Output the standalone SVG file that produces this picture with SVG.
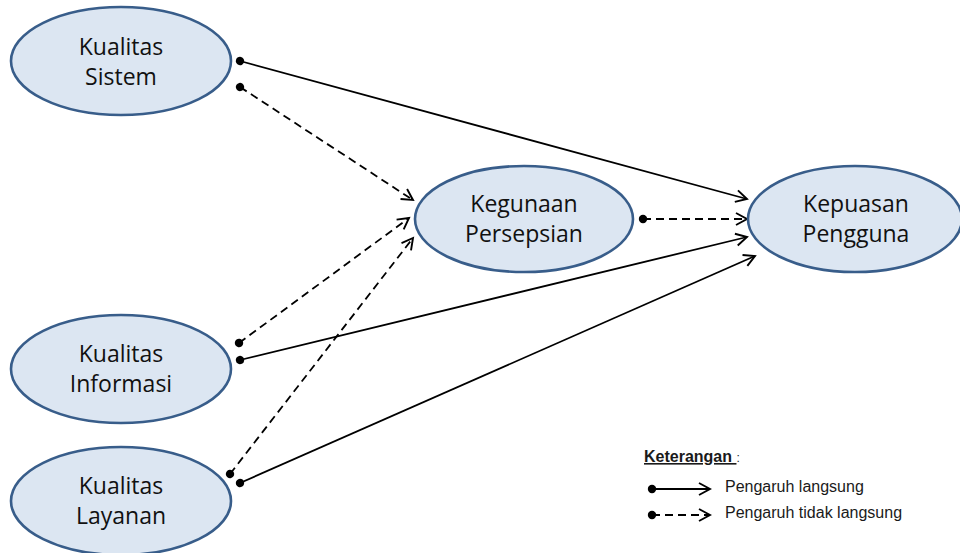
<svg xmlns="http://www.w3.org/2000/svg" width="960" height="553" viewBox="0 0 960 553">
<defs>
<style>
.node ellipse{fill:#dce6f2;stroke:#385d8a;stroke-width:2.6}
.node text{font-family:"Open Sans","Noto Sans",sans-serif;font-size:23px;fill:#111;text-anchor:middle}
.c{fill:none;stroke:#000;stroke-width:1.8;marker-start:url(#dot);marker-end:url(#arr)}
.d{stroke-dasharray:8 5}
.leg{font-family:"Liberation Sans",Arial,sans-serif;font-size:16px;fill:#1a1a1a}
</style>
<marker id="dot" markerUnits="userSpaceOnUse" markerWidth="10" markerHeight="10" refX="5" refY="5" orient="auto" overflow="visible">
<circle cx="5" cy="5" r="4.2" fill="#000"/>
</marker>
<marker id="arr" markerUnits="userSpaceOnUse" markerWidth="14" markerHeight="14" refX="12" refY="6" orient="auto" overflow="visible">
<path d="M1,0 L12,6 L1,12" fill="none" stroke="#000" stroke-width="1.9" stroke-dasharray="none" stroke-linejoin="miter"/>
</marker>
</defs>
<rect width="960" height="553" fill="#fff"/>
<g id="connectors">
<path class="c" d="M240,61 L747,199"/>
<path class="c d" d="M240,87 L413,200"/>
<path class="c d" d="M239,343 L409,218"/>
<path class="c" d="M240,360 L747,237"/>
<path class="c d" d="M230,474 L413,238"/>
<path class="c" d="M240,483 L755,256"/>
<path class="c d" d="M643,219 L747,219"/>
</g>
<g id="kualitas-sistem" class="node">
<ellipse cx="121" cy="61" rx="110" ry="54"/>
<text x="121" y="55">Kualitas</text>
<text x="121" y="85">Sistem</text>
</g>
<g id="kualitas-informasi" class="node">
<ellipse cx="121" cy="369" rx="110" ry="54"/>
<text x="121" y="362">Kualitas</text>
<text x="121" y="392">Informasi</text>
</g>
<g id="kualitas-layanan" class="node">
<ellipse cx="121" cy="501" rx="110" ry="54"/>
<text x="121" y="494">Kualitas</text>
<text x="121" y="524">Layanan</text>
</g>
<g id="kegunaan-persepsian" class="node">
<ellipse cx="524" cy="219" rx="109" ry="53"/>
<text x="524" y="212">Kegunaan</text>
<text x="524" y="242">Persepsian</text>
</g>
<g id="kepuasan-pengguna" class="node">
<ellipse cx="855" cy="219" rx="107" ry="53"/>
<text x="856" y="212">Kepuasan</text>
<text x="856" y="242">Pengguna</text>
</g>
<g id="legend">
<text class="leg" x="644" y="462"><tspan font-weight="bold" text-decoration="underline">Keterangan </tspan><tspan font-size="12">:</tspan></text>
<path class="c" d="M652,489 L710,489"/>
<text class="leg" x="725" y="492">Pengaruh langsung</text>
<path class="c d" d="M652,515 L710,515"/>
<text class="leg" x="725" y="518">Pengaruh tidak langsung</text>
</g>
</svg>
